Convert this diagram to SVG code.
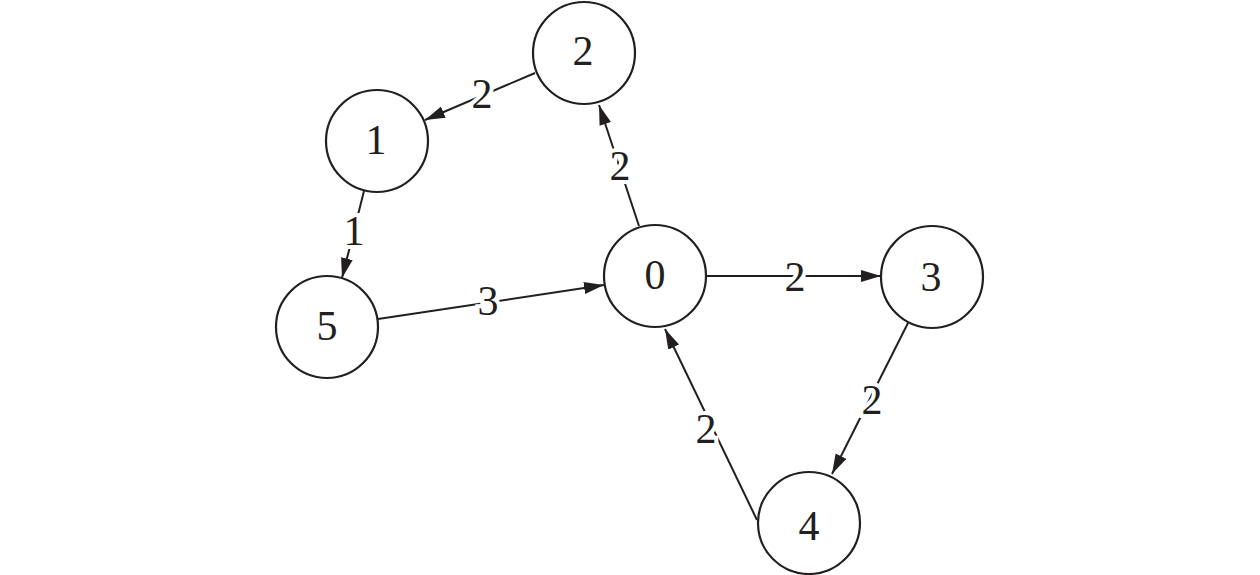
<svg xmlns="http://www.w3.org/2000/svg" width="1260" height="575" viewBox="0 0 1260 575">
<style>
.node circle{fill:#fff;stroke:#231f20;stroke-width:2.2}
.t{font-family:"Liberation Serif","Times New Roman",serif;font-size:42px;fill:#231f20;text-anchor:middle}
.e line{stroke:#231f20;stroke-width:2}
.lbl{font-family:"Liberation Serif","Times New Roman",serif;font-size:42px;fill:#231f20;text-anchor:middle;stroke:#fff;stroke-width:8;paint-order:stroke}
</style>
<defs>
<marker id="arr" markerUnits="userSpaceOnUse" markerWidth="22" markerHeight="14" refX="20" refY="6" orient="auto">
<path d="M0,0 L20,6 L0,12 Z" fill="#231f20"/>
</marker>
</defs>
<rect width="1260" height="575" fill="#fff"/>
<g id="edges" class="e">
<line x1="535" y1="73" x2="425" y2="120" marker-end="url(#arr)"/>
<line x1="639" y1="226" x2="599" y2="105" marker-end="url(#arr)"/>
<line x1="364" y1="191" x2="342" y2="278" marker-end="url(#arr)"/>
<line x1="378" y1="319" x2="604" y2="285" marker-end="url(#arr)"/>
<line x1="707" y1="276" x2="881" y2="276" marker-end="url(#arr)"/>
<line x1="908" y1="323" x2="832" y2="474" marker-end="url(#arr)"/>
<line x1="757" y1="520" x2="665" y2="329" marker-end="url(#arr)"/>
<text class="lbl" x="482" y="108">2</text>
<text class="lbl" x="620" y="180">2</text>
<text class="lbl" x="354" y="245">1</text>
<text class="lbl" x="488" y="315">3</text>
<text class="lbl" x="795" y="291">2</text>
<text class="lbl" x="872" y="414">2</text>
<text class="lbl" x="706" y="443">2</text>
</g>
<g id="n2" class="node"><circle cx="584" cy="53" r="51"/><text class="t" x="583" y="65">2</text></g>
<g id="n1" class="node"><circle cx="377" cy="141" r="51"/><text class="t" x="376" y="154">1</text></g>
<g id="n5" class="node"><circle cx="327" cy="327" r="51"/><text class="t" x="327" y="340">5</text></g>
<g id="n0" class="node"><circle cx="655" cy="276" r="51"/><text class="t" x="655" y="289">0</text></g>
<g id="n3" class="node"><circle cx="932" cy="277" r="51"/><text class="t" x="931" y="291">3</text></g>
<g id="n4" class="node"><circle cx="809" cy="523" r="51"/><text class="t" x="809" y="540">4</text></g>
</svg>
